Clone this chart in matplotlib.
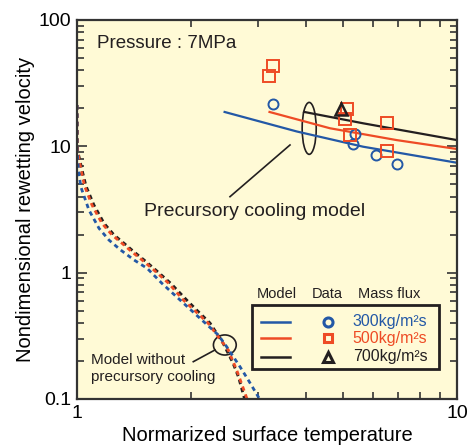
import matplotlib
matplotlib.use("Agg")
import matplotlib.pyplot as plt
from matplotlib.patches import Ellipse, Rectangle
from matplotlib.lines import Line2D

plt.rcParams['font.family'] = ['Liberation Sans', 'DejaVu Sans']

BLUE = '#2358a6'
RED = '#ee4b25'
BLACK = '#231f20'
BG = '#fffad6'

# ---- data ----
# Model with precursory cooling (solid)
m300_x = [2.43, 3.79, 5.66, 10.0]
m300_y = [18.8, 13.1, 9.93, 7.41]
m500_x = [3.19, 4.63, 6.94, 10.0]
m500_y = [18.8, 13.9, 11.2, 9.52]
m700_x = [3.93, 5.67, 10.0]
m700_y = [18.8, 15.2, 11.2]

# Model without precursory cooling (dashed)
n300_x = [1.0, 1.0, 1.009, 1.023, 1.075, 1.143, 1.214, 1.303, 1.413, 1.531, 1.673,
          2.107, 2.354, 2.477, 2.685, 2.824, 3.000, 3.021]
n300_y = [21.2, 9.35, 6.49, 4.79, 3.13, 2.24, 1.81, 1.51, 1.26, 1.08, 0.823,
          0.435, 0.321, 0.259, 0.180, 0.141, 0.104, 0.1]
n500_x = [1.0, 1.002, 1.025, 1.047, 1.095, 1.163, 1.236, 1.313, 1.395, 1.483, 1.576,
          1.743, 1.905, 2.212, 2.501, 2.632, 2.719, 2.802]
n500_y = [21.2, 9.35, 6.49, 4.85, 3.43, 2.46, 1.99, 1.71, 1.46, 1.26, 1.08,
          0.823, 0.607, 0.399, 0.244, 0.169, 0.129, 0.1]
n700_x = [1.0, 1.003, 1.031, 1.056, 1.108, 1.178, 1.251, 1.329, 1.413, 1.501, 1.594,
          1.765, 1.944, 2.065, 2.239, 2.423, 2.574, 2.661, 2.760]
n700_y = [21.2, 9.35, 6.49, 4.85, 3.43, 2.46, 1.99, 1.71, 1.46, 1.26, 1.08,
          0.823, 0.607, 0.506, 0.399, 0.277, 0.192, 0.149, 0.1]

# Experimental data
d300_x = [3.27, 5.39, 5.31, 6.12, 6.94]
d300_y = [21.8, 12.5, 10.4, 8.53, 7.2]
d500_x = [3.27, 3.21, 5.13, 5.08, 5.23, 6.53, 6.53]
d500_y = [43.5, 36.0, 19.6, 16.5, 12.3, 15.2, 9.23]
d700_x = [4.94]
d700_y = [19.8]

mass_flux = ['300kg/m²s', '500kg/m²s', '700kg/m²s']
colors = [BLUE, RED, BLACK]

fig = plt.figure(figsize=(4.67, 4.46), dpi=100)
fig.patch.set_facecolor('white')
ax = fig.add_axes([0.1649, 0.1054, 0.8137, 0.8498])
ax.set_facecolor(BG)
ax.set_xscale('log')
ax.set_yscale('log')
ax.set_xlim(1, 10)
ax.set_ylim(0.1, 100)

dash = (0, (1.6, 1.4))
for xs, ys, c in [(n700_x, n700_y, BLACK), (n500_x, n500_y, RED), (n300_x, n300_y, BLUE)]:
    ax.plot(xs, ys, color=c, lw=2.0, linestyle=dash)

for xs, ys, c in [(m300_x, m300_y, BLUE), (m500_x, m500_y, RED), (m700_x, m700_y, BLACK)]:
    ax.plot(xs, ys, color=c, lw=1.6, solid_capstyle='butt')

ax.plot(d300_x, d300_y, 'o', ms=7.2, mfc='none', mec=BLUE, mew=1.4, linestyle='none')
ax.plot(d500_x, d500_y, 's', ms=8.2, mfc='none', mec=RED, mew=1.4, linestyle='none')
ax.plot(d700_x, d700_y, '^', ms=8.5, mfc='none', mec=BLACK, mew=1.8, linestyle='none')

# ticks
ax.set_xticks([1, 10])
ax.set_xticklabels(['1', '10'])
ax.set_yticks([0.1, 1, 10, 100])
ax.set_yticklabels(['0.1', '1', '10', '100'])
ax.tick_params(which='both', direction='in', top=True, right=True, color='#333333', width=1.2)
ax.tick_params(which='major', length=7, labelsize=14, pad=4)
ax.tick_params(which='minor', length=5)
ax.tick_params(axis='x', which='minor', labelbottom=False)
ax.tick_params(axis='y', which='minor', labelleft=False)
for s in ax.spines.values():
    s.set_linewidth(1.6)
    s.set_color('#333333')

ax.set_xlabel('Normarized surface temperature', fontsize=14.5, labelpad=3)
ax.set_ylabel('Nondimensional rewetting velocity', fontsize=14.5, labelpad=3)

# annotations
T = ax.transAxes
ax.text(0.0526, 0.939, 'Pressure : 7MPa', transform=T, fontsize=13.5, ha='left', va='center', color=BLACK)
ax.text(0.468, 0.496, 'Precursory cooling model', transform=T, fontsize=14, ha='center', va='center', color=BLACK)
ax.text(0.0368, 0.0805, 'Model without\nprecursory cooling', transform=T, fontsize=11,
        ha='left', va='center', color=BLACK, linespacing=1.25)
ax.add_patch(Ellipse((0.611, 0.714), 0.037, 0.137, transform=T, fill=False, ec=BLACK, lw=1.2))
ax.add_line(Line2D([0.4026, 0.5605], [0.5338, 0.6702], transform=T, color=BLACK, lw=1.2))
ax.add_patch(Ellipse((0.389, 0.1425), 0.06, 0.053, transform=T, fill=False, ec=BLACK, lw=1.2))
ax.add_line(Line2D([0.306, 0.363], [0.0984, 0.1293], transform=T, color=BLACK, lw=1.2))

# legend (manual)
ax.add_patch(Rectangle((0.461, 0.0784), 0.4916, 0.1696, transform=T, fill=False, ec=BLACK, lw=2.0, zorder=5))
for label, xx in [('Model', 0.527), ('Data', 0.659), ('Mass flux', 0.821)]:
    ax.text(xx, 0.277, label, transform=T, fontsize=10.5, ha='center', va='center', color=BLACK)
row_y = [0.204, 0.160, 0.1116]
markers = [('o', 6.5), ('s', 6.0), ('^', 7.0)]
for yy, c, (mk, ms), txt in zip(row_y, colors, markers, mass_flux):
    ax.add_line(Line2D([0.483, 0.5605], [yy, yy], transform=T, color=c, lw=1.8))
    ax.add_line(Line2D([0.661], [yy], transform=T, marker=mk, ms=ms, mfc='none', mec=c, mew=2.2, linestyle='none'))
    ax.text(0.7255, yy, txt, transform=T, fontsize=11.5, ha='left', va='center', color=c)

fig.savefig('out.png', dpi=100, facecolor='white')
